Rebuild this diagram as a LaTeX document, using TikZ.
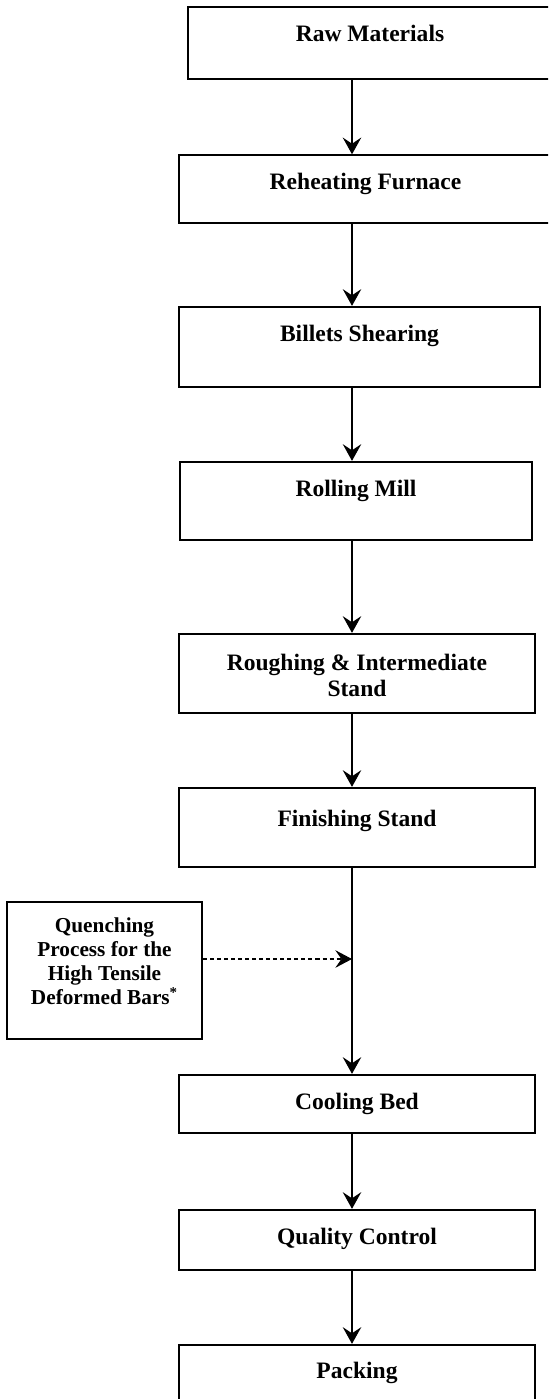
\documentclass[tikz,border=0pt]{standalone}
\usepackage{fontspec}
\setmainfont{Liberation Serif}
\usetikzlibrary{arrows.meta}
\tikzset{
  stage/.style={draw, line width=1.3pt, inner sep=0pt},
  stagetext/.style={font=\bfseries\fontsize{13.4}{14.8}\selectfont, align=center,
    anchor=north, inner sep=0pt, yshift=-0.38cm},
  quenchtext/.style={font=\bfseries\fontsize{12.1}{13.8}\selectfont, align=center,
    anchor=north, inner sep=0pt, yshift=-0.32cm},
  flow/.style={line width=1.1pt, -{Stealth[length=9.5pt,width=10.5pt,inset=3.5pt]}},
  feed/.style={line width=0.6pt, dash pattern=on 2.3pt off 1.7pt,
    -{Stealth[length=9.5pt,width=10pt,inset=3.5pt]}}
}
\begin{document}
\begin{tikzpicture}[x=0.02cm, y=-0.02cm]
  \clip (0,0) rectangle (548,1399);
  % main line of stages
  \node[stage, line width=1.6pt, minimum width=7.28cm, minimum height=1.44cm,
    label={[stagetext]north:Raw Materials}] (raw) at (370,43) {};
  \node[stage, line width=0.8pt, minimum width=7.46cm, minimum height=1.36cm,
    label={[stagetext]north:Reheating Furnace}] (reheat) at (365.5,189) {};
  \node[stage, minimum width=7.22cm, minimum height=1.60cm,
    label={[stagetext]north:Billets Shearing}] (billets) at (359.5,347) {};
  \node[stage, minimum width=7.04cm, minimum height=1.56cm,
    label={[stagetext]north:Rolling Mill}] (rolling) at (356,501) {};
  \node[stage, minimum width=7.12cm, minimum height=1.58cm,
    label={[stagetext, yshift=-0.04cm]north:Roughing \& Intermediate\\Stand}] (roughing) at (357,673.5) {};
  \node[stage, minimum width=7.12cm, minimum height=1.58cm,
    label={[stagetext, yshift=-0.08cm]north:Finishing Stand}] (finishing) at (357,827.5) {};
  \node[stage, minimum width=7.12cm, minimum height=1.16cm,
    label={[stagetext]north:Cooling Bed}] (cooling) at (357,1104) {};
  \node[stage, minimum width=7.12cm, minimum height=1.20cm,
    label={[stagetext]north:Quality Control}] (quality) at (357,1240) {};
  \node[stage, minimum width=7.12cm, minimum height=1.50cm,
    label={[stagetext, yshift=0.02cm]north:Packing}] (packing) at (357,1382.5) {};
  % side process
  \node[stage, line width=1.2pt, minimum width=3.90cm, minimum height=2.74cm,
    label={[quenchtext]north:Quenching\\Process for the\\High Tensile\\Deformed Bars\textsuperscript{*}}] (quench) at (104.5,970.5) {};
  \coordinate (spine) at (352,0);
  \coordinate (qin) at (352,959);
  % connectors
  \draw[flow] (raw.south -| spine) -- (reheat.north -| spine);
  \draw[flow] (reheat.south -| spine) -- (billets.north -| spine);
  \draw[flow] (billets.south -| spine) -- (rolling.north -| spine);
  \draw[flow, line width=1.4pt] (rolling.south -| spine) -- (roughing.north -| spine);
  \draw[flow, line width=1.4pt] (roughing.south -| spine) -- (finishing.north -| spine);
  \draw[flow, line width=1.4pt] (finishing.south -| spine) -- (cooling.north -| spine);
  \draw[flow, line width=1.4pt] (cooling.south -| spine) -- (quality.north -| spine);
  \draw[flow, line width=1.4pt] (quality.south -| spine) -- (packing.north -| spine);
  \draw[feed] (quench.east |- qin) -- (qin);
\end{tikzpicture}
\end{document}
